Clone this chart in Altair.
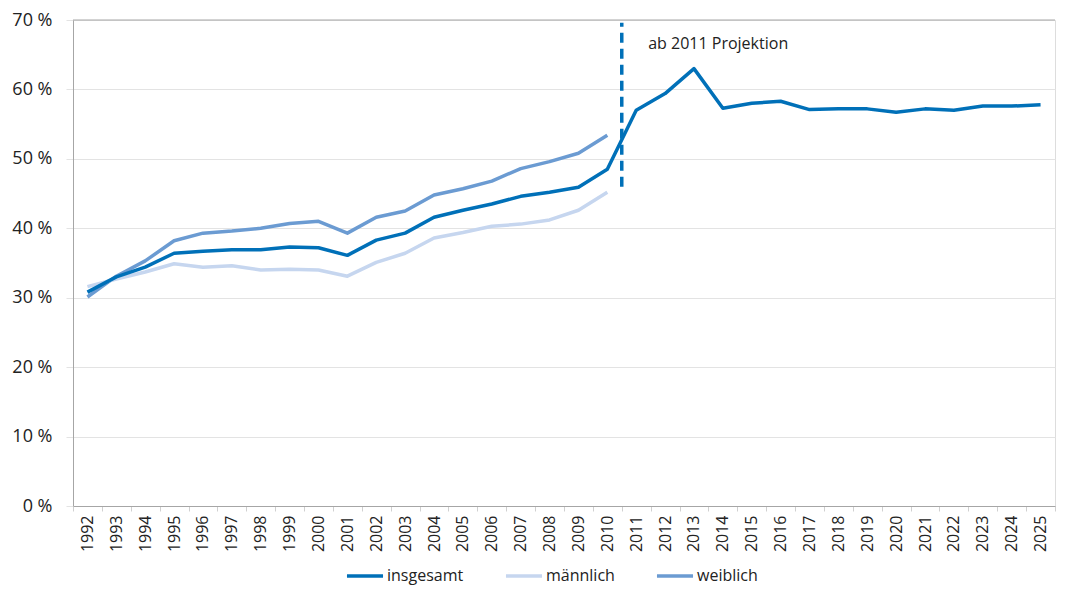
import altair as alt
import pandas as pd

years = [str(y) for y in range(1992, 2026)]
insgesamt = [30.8, 33.0, 34.4, 36.4, 36.7, 36.9, 36.9, 37.3, 37.2, 36.1,
             38.3, 39.3, 41.6, 42.6, 43.5, 44.6, 45.2, 45.9, 48.5,
             57.0, 59.4, 63.0, 57.3, 58.0, 58.3, 57.1, 57.2, 57.2, 56.7,
             57.2, 57.0, 57.6, 57.6, 57.8]
maennlich = [31.6, 32.7, 33.7, 34.9, 34.4, 34.6, 34.0, 34.1, 34.0, 33.1,
             35.1, 36.4, 38.6, 39.4, 40.3, 40.6, 41.2, 42.6, 45.2]
weiblich = [30.1, 33.1, 35.3, 38.2, 39.3, 39.6, 40.0, 40.7, 41.0, 39.3,
            41.6, 42.5, 44.8, 45.7, 46.8, 48.6, 49.6, 50.8, 53.4]

series_names = ["insgesamt", "männlich", "weiblich"]
series_colors = ["#0070b8", "#c6d6ef", "#6b9bd2"]

rows = []
for name, vals in zip(series_names, [insgesamt, maennlich, weiblich]):
    for y, v in zip(years, vals):
        rows.append({"Jahr": y, "Wert": v, "Reihe": name})
df = pd.DataFrame(rows)

proj_year = ["2010"]
proj_range = [46.0, 69.6]
note_text = "ab 2011 Projektion"
note_year = "2011"
note_value = 66.6

FONT = "Open Sans"

x_enc = alt.X("Jahr:O", sort=years,
              scale=alt.Scale(domain=years, paddingInner=0, paddingOuter=0),
              axis=alt.Axis(title=None, labelAngle=270, labelFontSize=16,
                            labelFont=FONT, labelColor="#222222",
                            labelBaseline="middle", labelAlign="right",
                            tickBand="extent", tickColor="#d0d0d0", tickSize=5,
                            domainColor="#a6a6a6", labelPadding=4, grid=False))
y_enc = alt.Y("Wert:Q",
              scale=alt.Scale(domain=[0, 70]),
              axis=alt.Axis(title=None, values=[0, 10, 20, 30, 40, 50, 60, 70],
                            labelExpr="datum.value + ' %'", labelFontSize=18,
                            labelFont=FONT, labelColor="#222222",
                            gridColor="#e3e3e3", tickColor="#e3e3e3", tickSize=7,
                            domainColor="#a6a6a6", labelPadding=14))

color_enc = alt.Color("Reihe:N",
                      scale=alt.Scale(domain=series_names, range=series_colors),
                      sort=series_names,
                      legend=alt.Legend(title=None, orient="none", direction="horizontal",
                                        legendX=272, legendY=536,
                                        symbolType="stroke", symbolSize=1300,
                                        symbolStrokeWidth=3.5, labelFontSize=16,
                                        labelFont=FONT,
                                        labelColor="#222222", labelOffset=2,
                                        columnPadding=34))

base = alt.Chart(df)
layers = []
for name in ["weiblich", "männlich", "insgesamt"]:
    layers.append(base.transform_filter(alt.datum.Reihe == name)
                  .mark_line(strokeWidth=3.5, strokeJoin="round")
                  .encode(x=x_enc, y=y_enc, color=color_enc))

top_df = pd.DataFrame({"Wert": [70]})
top_line = alt.Chart(top_df).mark_rule(color="#a6a6a6", strokeWidth=1).encode(y=alt.Y("Wert:Q"))

proj_df = pd.DataFrame({"Jahr": proj_year, "Wert": [proj_range[0]], "Wert2": [proj_range[1]]})
proj_rule = alt.Chart(proj_df).mark_rule(color="#0070b8", strokeWidth=3.5, strokeDash=[10, 6]).encode(
    x=alt.X("Jahr:O", sort=years, bandPosition=1),
    y=alt.Y("Wert:Q"),
    y2="Wert2:Q")

note_df = pd.DataFrame({"Jahr": [note_year], "Wert": [note_value], "t": [note_text]})
note = alt.Chart(note_df).mark_text(align="left", baseline="middle", dx=12, fontSize=16,
                                    font=FONT, color="#222222").encode(
    x=alt.X("Jahr:O", sort=years), y=alt.Y("Wert:Q"), text="t:N")

chart = alt.layer(top_line, *layers, proj_rule, note).properties(
    width=982, height=486,
    padding={"left": 3, "top": 3, "right": 0, "bottom": 6}
).configure_view(stroke=None).configure(background="white")

chart.save("out.html", embed_options={"renderer": "svg", "actions": False})
